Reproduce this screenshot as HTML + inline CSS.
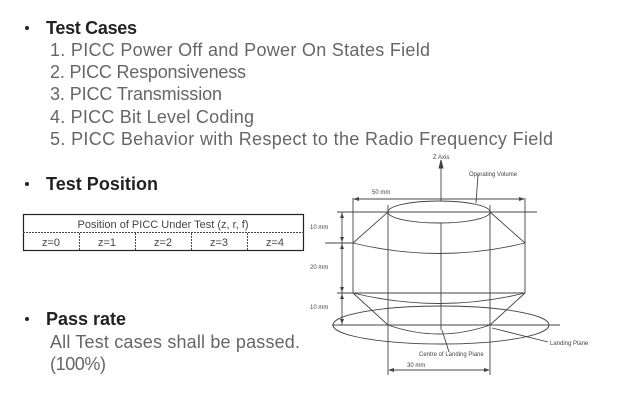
<!DOCTYPE html>
<html><head><meta charset="utf-8"><style>
html,body{margin:0;padding:0;background:#fff;}
svg{display:block}
</style></head><body>
<svg width="640" height="405" viewBox="0 0 640 405" xmlns="http://www.w3.org/2000/svg" font-family="Liberation Sans, sans-serif">
<g fill="#222">
<circle cx="27" cy="28" r="2"/>
<circle cx="27" cy="184" r="2"/>
<circle cx="27" cy="319" r="2"/>
</g>
<g font-weight="bold" font-size="18" fill="#222">
<text x="46" y="34" textLength="91">Test Cases</text>
<text x="46" y="190" textLength="112">Test Position</text>
<text x="46" y="325" textLength="80">Pass rate</text>
</g>
<g font-size="18" fill="#666">
<text x="50" y="56" textLength="380">1. PICC Power Off and Power On States Field</text>
<text x="50" y="78" textLength="196">2. PICC Responsiveness</text>
<text x="50" y="100" textLength="172">3. PICC Transmission</text>
<text x="50" y="123" textLength="204">4. PICC Bit Level Coding</text>
<text x="50" y="145" textLength="503">5. PICC Behavior with Respect to the Radio Frequency Field</text>
<text x="50" y="348" textLength="250">All Test cases shall be passed.</text>
<text x="50" y="370" textLength="56">(100%)</text>
</g>
<!-- table -->
<rect x="23.5" y="214.5" width="280" height="36" fill="none" stroke="#222" stroke-width="1.2"/>
<line x1="23" y1="232.5" x2="304" y2="232.5" stroke="#444" stroke-dasharray="2,1"/>
<g stroke="#444" stroke-dasharray="2,1">
<line x1="79.5" y1="233" x2="79.5" y2="250"/>
<line x1="135.5" y1="233" x2="135.5" y2="250"/>
<line x1="191.5" y1="233" x2="191.5" y2="250"/>
<line x1="247.5" y1="233" x2="247.5" y2="250"/>
</g>
<g font-size="11" fill="#444" text-anchor="middle">
<text x="163" y="228">Position of PICC Under Test (z, r, f)</text>
<text x="51" y="246">z=0</text>
<text x="107" y="246">z=1</text>
<text x="163" y="246">z=2</text>
<text x="219" y="246">z=3</text>
<text x="275" y="246">z=4</text>
</g>
<!-- diagram -->
<g stroke="#444" stroke-width="0.9" fill="none">
<ellipse cx="441" cy="325" rx="108" ry="19"/>
<line x1="441" y1="167" x2="441" y2="330"/>
<polygon points="441,160 439,168 443,168" fill="#444"/>
<ellipse cx="439" cy="212" rx="51" ry="11" fill="#fff"/>
<line x1="337" y1="212" x2="537" y2="212"/>
<line x1="388" y1="205" x2="388" y2="375"/>
<line x1="490" y1="205" x2="490" y2="375"/>
<line x1="353" y1="198" x2="353" y2="293"/>
<line x1="525" y1="198" x2="525" y2="293"/>
<line x1="388" y1="212" x2="353" y2="243"/>
<line x1="490" y1="212" x2="525" y2="243"/>
<path d="M353,243 Q439,264 525,243"/>
<path d="M353,293 Q439,314 525,293"/>
<line x1="353" y1="293" x2="388" y2="325"/>
<line x1="525" y1="293" x2="490" y2="325"/>
<path d="M388,325 Q439,343 490,325"/>
<line x1="325" y1="243" x2="353" y2="243"/>
<line x1="337" y1="293" x2="525" y2="293"/>
<line x1="332" y1="325" x2="560" y2="325"/>
<line x1="342" y1="212" x2="342" y2="325"/>
<line x1="355" y1="199" x2="523" y2="199"/>
<line x1="390" y1="370" x2="488" y2="370"/>
<line x1="478" y1="175" x2="476" y2="203"/>
<line x1="442" y1="330" x2="449" y2="352"/>
<line x1="492" y1="328" x2="548" y2="342"/>
</g>
<g fill="#444">
<polygon points="353,199 359,197 359,201"/><polygon points="525,199 519,197 519,201"/>
<polygon points="388,370 394,368 394,372"/><polygon points="490,370 484,368 484,372"/>
<polygon points="342,213 340,218 344,218"/><polygon points="342,242 340,237 344,237"/>
<polygon points="342,244 340,249 344,249"/><polygon points="342,292 340,287 344,287"/>
<polygon points="342,294 340,299 344,299"/><polygon points="342,324 340,319 344,319"/>
</g>
<g font-size="6" fill="#444">
<text x="433" y="159">Z Axis</text>
<text x="469" y="176">Operating Volume</text>
<text x="372" y="194">50 mm</text>
<text x="310" y="229">10 mm</text>
<text x="310" y="269">20 mm</text>
<text x="310" y="309">10 mm</text>
<text x="550" y="345">Landing Plane</text>
<text x="419" y="356">Centre of Landing Plane</text>
<text x="407" y="367">30 mm</text>
</g>
</svg>
</body></html>
